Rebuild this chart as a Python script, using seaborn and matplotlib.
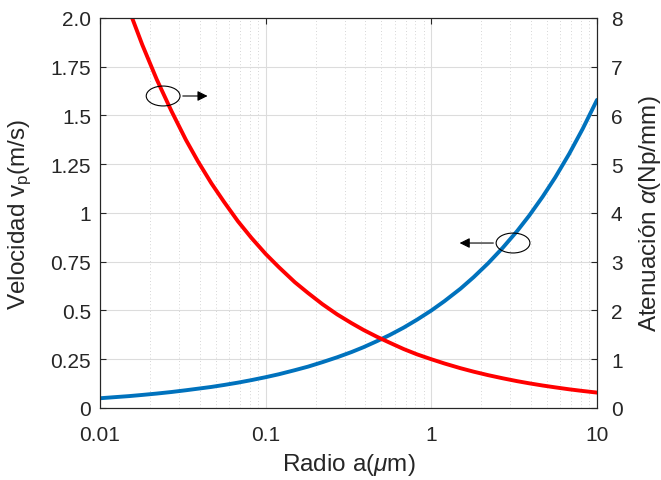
import numpy as np
import pandas as pd
import matplotlib
matplotlib.use("Agg")
import matplotlib.pyplot as plt
import seaborn as sns
from matplotlib.patches import Ellipse
from matplotlib.ticker import LogLocator, NullFormatter

# Data
radius_um = [0.010, 0.012, 0.015, 0.018, 0.022, 0.027, 0.033, 0.039, 0.047, 0.056, 0.068, 0.082,
             0.10, 0.12, 0.15, 0.18, 0.22, 0.27, 0.33, 0.39, 0.47, 0.56, 0.68, 0.82,
             1.0, 1.2, 1.5, 1.8, 2.2, 2.7, 3.3, 3.9, 4.7, 5.6, 6.8, 8.2, 10.0]
velocity_ms = [0.050, 0.055, 0.061, 0.067, 0.074, 0.082, 0.091, 0.099, 0.108, 0.118, 0.130, 0.143,
               0.158, 0.173, 0.194, 0.212, 0.235, 0.260, 0.287, 0.312, 0.343, 0.374, 0.412, 0.453,
               0.500, 0.548, 0.612, 0.671, 0.742, 0.822, 0.908, 0.987, 1.084, 1.183, 1.304, 1.432,
               1.580]
attenuation_npmm = [10.0, 9.13, 8.16, 7.45, 6.74, 6.09, 5.50, 5.06, 4.61, 4.23, 3.83, 3.49,
                    3.16, 2.89, 2.58, 2.36, 2.13, 1.92, 1.74, 1.60, 1.46, 1.34, 1.21, 1.10,
                    1.00, 0.913, 0.816, 0.745, 0.674, 0.609, 0.550, 0.506, 0.461, 0.423, 0.383,
                    0.349, 0.316]
left_ticks = [0, 0.25, 0.5, 0.75, 1, 1.25, 1.5, 1.75, 2.0]
left_ticklabels = ["0", "0.25", "0.5", "0.75", "1", "1.25", "1.5", "1.75", "2.0"]
right_ticks = [0, 1, 2, 3, 4, 5, 6, 7, 8]
x_ticks = [0.01, 0.1, 1, 10]
x_ticklabels = ["0.01", "0.1", "1", "10"]

df = pd.DataFrame({"radius": radius_um, "velocity": velocity_ms,
                   "attenuation": attenuation_npmm})

sns.set_style("white")
plt.rcParams["font.family"] = ["Liberation Sans", "DejaVu Sans"]
plt.rcParams["mathtext.fontset"] = "custom"
plt.rcParams["mathtext.rm"] = "Liberation Sans"
plt.rcParams["mathtext.it"] = "Liberation Sans:italic"

txt = "#262626"
fig = plt.figure(figsize=(6.61, 4.81), dpi=100)
ax = fig.add_axes([0.1513, 0.1497, 0.7519, 0.8108])
ax2 = ax.twinx()

ax.set_xscale("log")
sns.lineplot(data=df, x="radius", y="velocity", ax=ax, color="#0072BD", linewidth=2.8)
sns.lineplot(data=df, x="radius", y="attenuation", ax=ax2, color="#FF0000", linewidth=2.8)

ax.set_xlim(0.01, 10)
ax.set_ylim(0, 2.0)
ax2.set_ylim(0, 8)

ax.set_xticks(x_ticks)
ax.set_xticklabels(x_ticklabels)
ax.xaxis.set_minor_locator(LogLocator(base=10, subs=np.arange(2, 10)))
ax.xaxis.set_minor_formatter(NullFormatter())
ax.set_yticks(left_ticks)
ax.set_yticklabels(left_ticklabels)
ax2.set_yticks(right_ticks)

ax.grid(True, which="major", axis="both", color="#dcdcdc", linewidth=0.8, linestyle="-")
ax.grid(True, which="minor", axis="x", color="#c8c8c8", linewidth=0.6, linestyle=(0, (1, 3)))
ax.set_axisbelow(True)

for a in (ax, ax2):
    a.tick_params(axis="both", which="both", direction="in", labelsize=15,
                  colors=txt, labelcolor=txt)
    a.tick_params(which="major", length=4)
    a.tick_params(which="minor", length=0)
    for s in a.spines.values():
        s.set_color("#262626")
        s.set_linewidth(0.8)
ax.tick_params(axis="x", top=True, pad=12)
ax.tick_params(axis="y", pad=6.5)
ax2.tick_params(axis="y", pad=10)

ax.set_xlabel(r"Radio a($\mu$m)", fontsize=17.5, color=txt, labelpad=5)
ax.set_ylabel(r"Velocidad v$_\mathrm{p}$(m/s)", fontsize=17.5, color=txt, labelpad=12)
ax2.set_ylabel(r"Atenuación $\alpha$(Np/mm)", fontsize=17.5, color=txt, labelpad=10)

# Annotation ellipses with arrows
e1 = Ellipse((0.127, 0.80), 0.068, 0.051, transform=ax.transAxes, fill=False,
             edgecolor="black", linewidth=0.8, zorder=5)
e2 = Ellipse((0.831, 0.423), 0.068, 0.051, transform=ax.transAxes, fill=False,
             edgecolor="black", linewidth=0.8, zorder=5)
ax2.add_patch(e1)
ax2.add_patch(e2)
ax2.annotate("", xy=(0.222, 0.80), xytext=(0.161, 0.80), xycoords=ax.transAxes,
             textcoords=ax.transAxes,
             arrowprops=dict(arrowstyle="-|>", color="black", lw=0.8, mutation_scale=15))
ax2.annotate("", xy=(0.718, 0.423), xytext=(0.797, 0.423), xycoords=ax.transAxes,
             textcoords=ax.transAxes,
             arrowprops=dict(arrowstyle="-|>", color="black", lw=0.8, mutation_scale=15))

fig.savefig("out.png", dpi=100)
